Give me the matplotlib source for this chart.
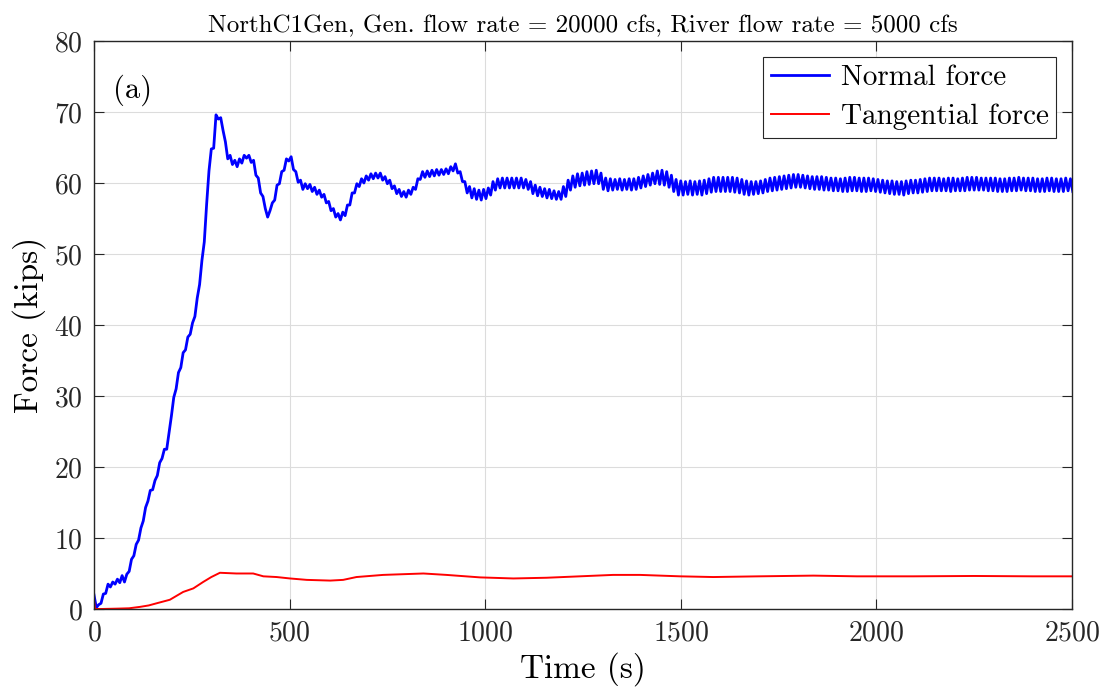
import numpy as np
import matplotlib
matplotlib.use("Agg")
import matplotlib.pyplot as plt

# ========== data ==========
# normal force, sampled every 6 s starting at t = 0 (peaks / troughs of the wiggle)
normal_force = [
    2.0, 0.2, 0.6, 0.8, 2.1, 2.2, 3.5, 3.1, 3.8, 3.5,
    4.2, 3.7, 4.7, 3.8, 4.9, 5.3, 7.0, 7.5, 9.1, 9.7,
    11.4, 12.4, 14.3, 15.2, 16.7, 16.8, 18.1, 18.8, 20.6, 21.2,
    22.5, 22.5, 24.8, 27.2, 29.8, 31.0, 33.3, 34.0, 36.1, 36.5,
    38.3, 38.7, 40.3, 41.2, 43.8, 45.7, 49.1, 51.7, 57.0, 61.7,
    64.8, 64.9, 69.6, 69.0, 69.2, 67.4, 65.8, 63.4, 63.9, 62.6,
    63.2, 62.3, 63.4, 62.8, 63.9, 63.5, 63.9, 62.9, 63.2, 61.1,
    60.7, 58.6, 58.1, 56.4, 55.2, 56.1, 57.2, 57.6, 59.7, 59.9,
    61.6, 61.8, 63.4, 63.1, 63.7, 61.9, 61.6, 60.1, 60.4, 59.1,
    59.9, 59.2, 59.8, 58.8, 59.4, 58.4, 59.0, 58.0, 58.4, 57.2,
    57.4, 56.1, 56.4, 55.2, 55.7, 54.8, 55.9, 55.4, 56.9, 56.9,
    58.6, 58.6, 59.9, 59.5, 60.6, 60.0, 61.0, 60.4, 61.3, 60.6,
    61.4, 60.7, 61.4, 60.4, 60.9, 59.9, 60.4, 59.2, 59.6, 58.5,
    59.1, 58.1, 58.8, 58.0, 59.0, 58.4, 59.4, 59.1, 60.6, 60.5,
    61.6, 60.8, 61.7, 60.9, 61.8, 61.0, 61.9, 61.1, 61.9, 61.2,
    62.0, 61.3, 62.3, 61.7, 62.7, 61.4, 61.6, 60.2, 60.2, 58.6,
    59.5, 57.9, 59.2, 57.7, 59.0, 57.6, 59.1, 57.8, 59.3, 58.3,
    60.2, 59.0, 60.6, 59.3, 60.7, 59.3, 60.7, 59.3, 60.7, 59.3,
    60.7, 59.3, 60.7, 59.3, 60.5, 59.1, 60.2, 58.5, 59.7, 58.2,
    59.4, 58.1, 59.2, 57.9, 59.1, 57.8, 58.9, 57.7, 58.8, 57.7,
    59.5, 58.1, 60.4, 59.0, 61.0, 59.4, 61.3, 59.6, 61.4, 59.7,
    61.6, 59.8, 61.7, 59.9, 61.8, 59.9, 61.4, 59.1, 60.7, 58.9,
    60.6, 59.0, 60.5, 59.1, 60.6, 59.0, 60.5, 59.1, 60.6, 59.0,
    60.6, 59.1, 60.8, 59.3, 61.0, 59.5, 61.2, 59.7, 61.4, 59.9,
    61.7, 59.8, 61.8, 59.7, 61.6, 59.4, 61.1, 58.8, 60.5, 58.3,
    60.3, 58.3, 60.2, 58.4, 60.3, 58.3, 60.2, 58.4, 60.3, 58.3,
    60.4, 58.5, 60.6, 58.7, 60.8, 58.8, 60.8, 58.8, 60.8, 58.8,
    60.8, 58.8, 60.8, 58.7, 60.7, 58.6, 60.5, 58.4, 60.3, 58.3,
    60.2, 58.4, 60.2, 58.5, 60.3, 58.6, 60.5, 58.8, 60.7, 58.9,
    60.8, 59.0, 60.9, 59.1, 61.0, 59.2, 61.1, 59.3, 61.2, 59.4,
    61.2, 59.4, 61.1, 59.3, 61.0, 59.2, 60.9, 59.1, 60.9, 59.1,
    60.9, 59.0, 60.8, 59.0, 60.7, 58.9, 60.7, 58.9, 60.6, 58.8,
    60.7, 58.8, 60.8, 58.9, 60.8, 58.9, 60.7, 58.8, 60.7, 58.8,
    60.7, 58.9, 60.6, 58.8, 60.5, 58.7, 60.4, 58.6, 60.3, 58.5,
    60.3, 58.4, 60.2, 58.4, 60.2, 58.3, 60.3, 58.5, 60.4, 58.6,
    60.4, 58.6, 60.5, 58.7, 60.6, 58.8, 60.7, 58.9, 60.7, 58.9,
    60.7, 58.9, 60.6, 58.9, 60.7, 58.8, 60.7, 58.9, 60.6, 58.9,
    60.7, 58.9, 60.8, 59.0, 60.8, 59.0, 60.8, 59.0, 60.7, 59.0,
    60.7, 58.9, 60.7, 58.9, 60.7, 58.8, 60.6, 58.8, 60.6, 58.8,
    60.7, 58.9, 60.7, 58.9, 60.8, 59.0, 60.7, 58.9, 60.7, 58.9,
    60.7, 58.8, 60.6, 58.8, 60.6, 58.8, 60.7, 58.9, 60.7, 58.8,
    60.6, 58.8, 60.6, 58.8, 60.7, 58.9, 60.6, 58.8,
]
NORMAL_DT = 6.0

# tangential force (time, value)
tang_time = [0, 3, 20, 60, 90, 118, 140, 160, 194, 228, 254, 279, 300, 322,
             364, 407, 433, 467, 501, 544, 604, 637, 671, 739, 842, 901,
             987, 1072, 1157, 1242, 1327, 1396, 1498, 1583, 1700, 1839,
             1950, 2094, 2250, 2400, 2500]
tang_force = [1.2, 0.0, 0.0, 0.05, 0.1, 0.3, 0.5, 0.8, 1.3, 2.4, 2.9, 3.8, 4.5, 5.1,
              5.0, 5.0, 4.6, 4.5, 4.3, 4.1, 4.0, 4.1, 4.5, 4.8, 5.0, 4.8,
              4.45, 4.3, 4.4, 4.6, 4.8, 4.8, 4.6, 4.5, 4.6, 4.7,
              4.6, 4.6, 4.65, 4.6, 4.6]

TITLE = "NorthC1Gen, Gen. flow rate = 20000 cfs, River flow rate = 5000 cfs"
X_TICKS = [0, 500, 1000, 1500, 2000, 2500]
Y_TICKS = [0, 10, 20, 30, 40, 50, 60, 70, 80]

# ========== style ==========
plt.rcParams.update({
    "font.family": "cmr10",
    "mathtext.fontset": "cm",
    "axes.formatter.use_mathtext": True,
    "axes.unicode_minus": False,
})

fig = plt.figure(figsize=(11.08, 6.94), dpi=100)
ax = fig.add_axes([0.0848, 0.1225, 0.8827, 0.8184])

normal_time = np.arange(len(normal_force)) * NORMAL_DT
ax.plot(normal_time, normal_force, color=(0, 0, 1), lw=2.0, label="Normal force")
ax.plot(tang_time, tang_force, color=(1, 0, 0), lw=1.4, label="Tangential force")

ax.set_xlim(0, 2500)
ax.set_ylim(0, 80)
ax.set_xticks(X_TICKS)
ax.set_yticks(Y_TICKS)
ax.grid(True, color="#dcdcdc", lw=0.8)
ax.set_axisbelow(True)

for s in ax.spines.values():
    s.set_color("#262626")
    s.set_linewidth(1.0)
ax.tick_params(direction="in", length=7, width=0.8, colors="#262626",
               top=True, right=True, labelsize=20, pad=8)

ax.set_xlabel("Time (s)", fontsize=24, labelpad=4)
ax.set_ylabel("Force (kips)", fontsize=24, labelpad=6)
ax.set_title(TITLE, fontsize=18, pad=6)

ax.text(0.019, 0.914, "(a)", transform=ax.transAxes, fontsize=22,
        ha="left", va="center")

leg = ax.legend(loc="upper right", fontsize=21, frameon=True, fancybox=False,
                edgecolor="#262626", framealpha=1, handlelength=2.0,
                borderaxespad=0.55, labelspacing=0.45, borderpad=0.25,
                handletextpad=0.4)
leg.get_frame().set_linewidth(0.8)

fig.savefig("out.png", dpi=100)
